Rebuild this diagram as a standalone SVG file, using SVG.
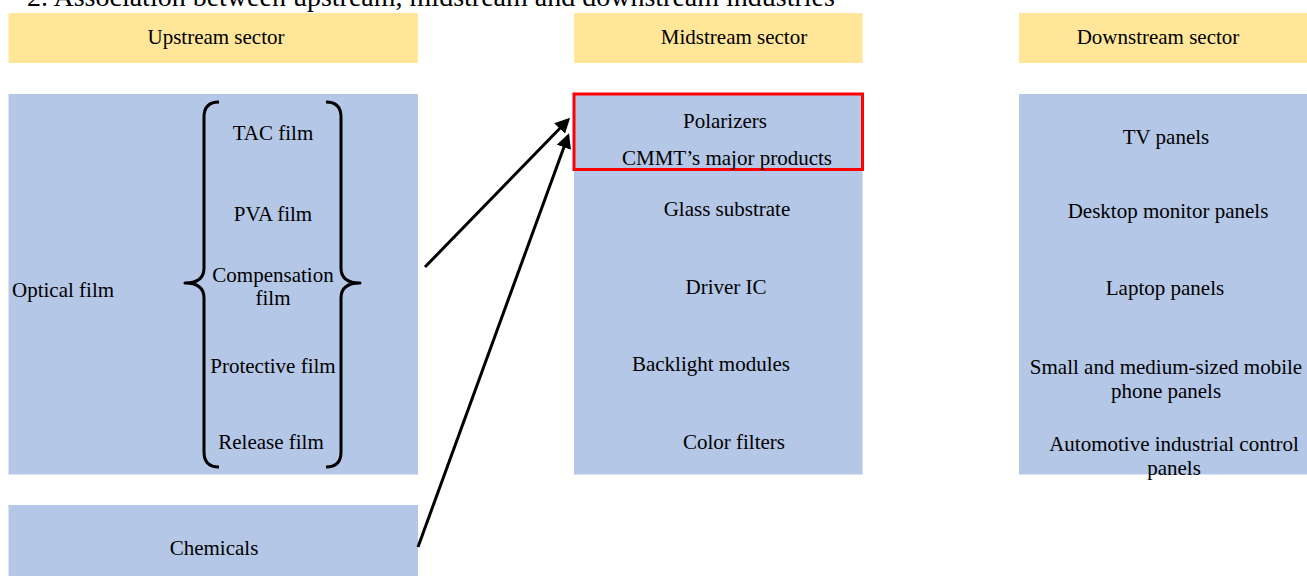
<svg xmlns="http://www.w3.org/2000/svg" width="1307" height="576" viewBox="0 0 1307 576">
<defs>
<style>
text{font-family:"Liberation Serif","Times New Roman",serif;font-size:21px;fill:#000;}
.c{text-anchor:middle;}
.hdr{fill:#FFE699;}
.body{fill:#B4C7E7;}
.brace{fill:none;stroke:#000;stroke-width:3;stroke-linejoin:round;}
.conn{stroke:#000;stroke-width:3;fill:none;marker-end:url(#ah);}
</style>
<marker id="ah" viewBox="0 0 10 10" refX="8" refY="5" markerWidth="5" markerHeight="5" orient="auto" markerUnits="strokeWidth">
<path d="M0,0 L10,5 L0,10 z" fill="#000"/>
</marker>
</defs>
<rect width="1307" height="576" fill="#fff"/>
<text x="27" y="6" style="font-size:28px">2. Association between upstream, midstream and downstream industries</text>

<g id="upstream-header"><rect class="hdr" x="8.5" y="13" width="409.5" height="50"/><text class="c" x="216" y="44">Upstream sector</text></g>
<g id="midstream-header"><rect class="hdr" x="574" y="13" width="288.5" height="50"/><text class="c" x="734" y="44">Midstream sector</text></g>
<g id="downstream-header"><rect class="hdr" x="1019" y="13" width="288" height="50"/><text class="c" x="1158" y="44">Downstream sector</text></g>

<g id="upstream">
<rect class="body" x="8.5" y="94" width="409.5" height="380.5"/>
<text x="12" y="297">Optical film</text>
<path class="brace" d="M219,102 Q204,102 204,117 L204,268 Q204,283 185,283 Q204,283 204,298 L204,452 Q204,467 219,467"/>
<path class="brace" d="M326,102 Q341,102 341,117 L341,268 Q341,283 360,283 Q341,283 341,298 L341,452 Q341,467 326,467"/>
<text class="c" x="273" y="140">TAC film</text>
<text class="c" x="273" y="221">PVA film</text>
<text class="c" x="273" y="282">Compensation</text>
<text class="c" x="273" y="305">film</text>
<text class="c" x="273" y="373">Protective film</text>
<text class="c" x="271" y="449">Release film</text>
</g>

<g id="chemicals"><rect class="body" x="8.5" y="505" width="409.5" height="71"/><text class="c" x="214" y="555">Chemicals</text></g>

<g id="midstream">
<rect class="body" x="574" y="94" width="288.5" height="380.5"/>
<rect x="574" y="94" width="288.5" height="75.5" fill="none" stroke="#FF0000" stroke-width="3"/>
<text class="c" x="725" y="128">Polarizers</text>
<text class="c" x="727" y="165">CMMT’s major products</text>
<text class="c" x="727" y="216">Glass substrate</text>
<text class="c" x="726" y="294">Driver IC</text>
<text class="c" x="711" y="371">Backlight modules</text>
<text class="c" x="734" y="449">Color filters</text>
</g>

<g id="downstream">
<rect class="body" x="1019" y="94" width="288" height="380.5"/>
<text class="c" x="1166" y="144">TV panels</text>
<text class="c" x="1168" y="218">Desktop monitor panels</text>
<text class="c" x="1165" y="295">Laptop panels</text>
<text class="c" x="1166" y="374">Small and medium-sized mobile</text>
<text class="c" x="1166" y="398">phone panels</text>
<text class="c" x="1174" y="451">Automotive industrial control</text>
<text class="c" x="1174" y="475">panels</text>
</g>

<g id="connectors">
<line class="conn" x1="425" y1="267" x2="568" y2="120"/>
<line class="conn" x1="418" y1="547" x2="568" y2="136"/>
</g>
</svg>
